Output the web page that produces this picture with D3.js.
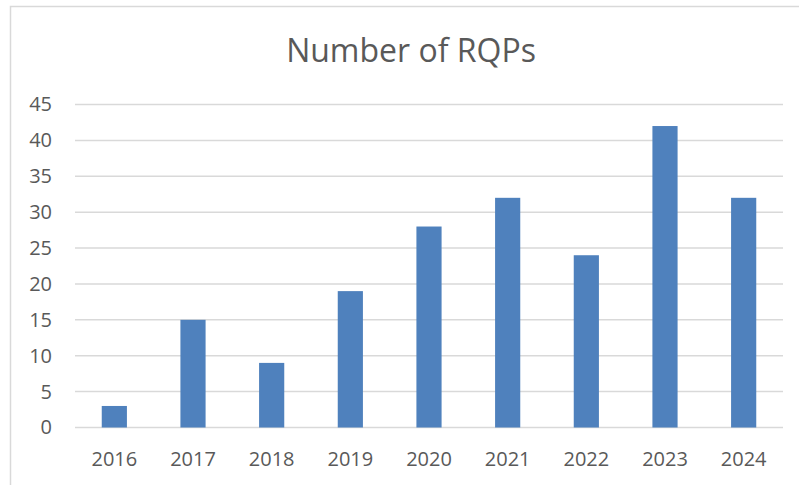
<!DOCTYPE html>
<html><head><meta charset="utf-8">
<script src="https://cdn.jsdelivr.net/npm/d3@7"></script>
<style>body{margin:0;background:#fff;} svg{display:block;}</style>
</head><body>
<script>
const categories = ["2016","2017","2018","2019","2020","2021","2022","2023","2024"];
const values = [3,15,9,19,28,32,24,42,32];
const yTicks = [0,5,10,15,20,25,30,35,40,45];
const title = "Number of RQPs";

const W = 799, H = 485;
const svg = d3.select("body").append("svg").attr("width", W).attr("height", H);
const font = "'Open Sans', sans-serif";
const textColor = "#595959";

// outer frame (cropped on right/bottom)
svg.append("rect").attr("x", 10.5).attr("y", 6.5).attr("width", 802).attr("height", 500)
  .attr("fill", "none").attr("stroke", "#d9d9d9").attr("stroke-width", 1.5);

const x = d3.scaleBand().domain(categories).range([75, 783]).paddingInner(0.68).paddingOuter(0.34);
const y = d3.scaleLinear().domain([0, 45]).range([427.5, 104.5]);

// gridlines
svg.append("g").selectAll("line").data(yTicks).join("line")
  .attr("x1", 75).attr("x2", 783)
  .attr("y1", d => y(d)).attr("y2", d => y(d))
  .attr("stroke", "#d9d9d9").attr("stroke-width", 1.5);

// y axis labels
const yAxis = d3.axisLeft(y).tickValues(yTicks).tickSize(0).tickPadding(0);
const gy = svg.append("g").attr("transform", "translate(52,0)").call(yAxis);
gy.select(".domain").remove();
gy.selectAll("text").attr("font-family", font).attr("font-size", 20).attr("fill", textColor);

// bars
svg.append("g").selectAll("rect").data(values).join("rect")
  .attr("x", (d,i) => x(categories[i]))
  .attr("width", x.bandwidth())
  .attr("y", d => y(d))
  .attr("height", d => y(0) - y(d))
  .attr("fill", "#4f81bd");

// x axis labels
const xAxis = d3.axisBottom(x).tickSize(0).tickPadding(0);
const gx = svg.append("g").attr("transform", "translate(0,451.5)").call(xAxis);
gx.select(".domain").remove();
gx.selectAll("text").attr("font-family", font).attr("font-size", 20).attr("fill", textColor);

// title
svg.append("text").attr("x", 411).attr("y", 62).attr("text-anchor", "middle")
  .attr("font-family", font).attr("font-size", 32).attr("fill", textColor).text(title);
</script>
</body></html>
